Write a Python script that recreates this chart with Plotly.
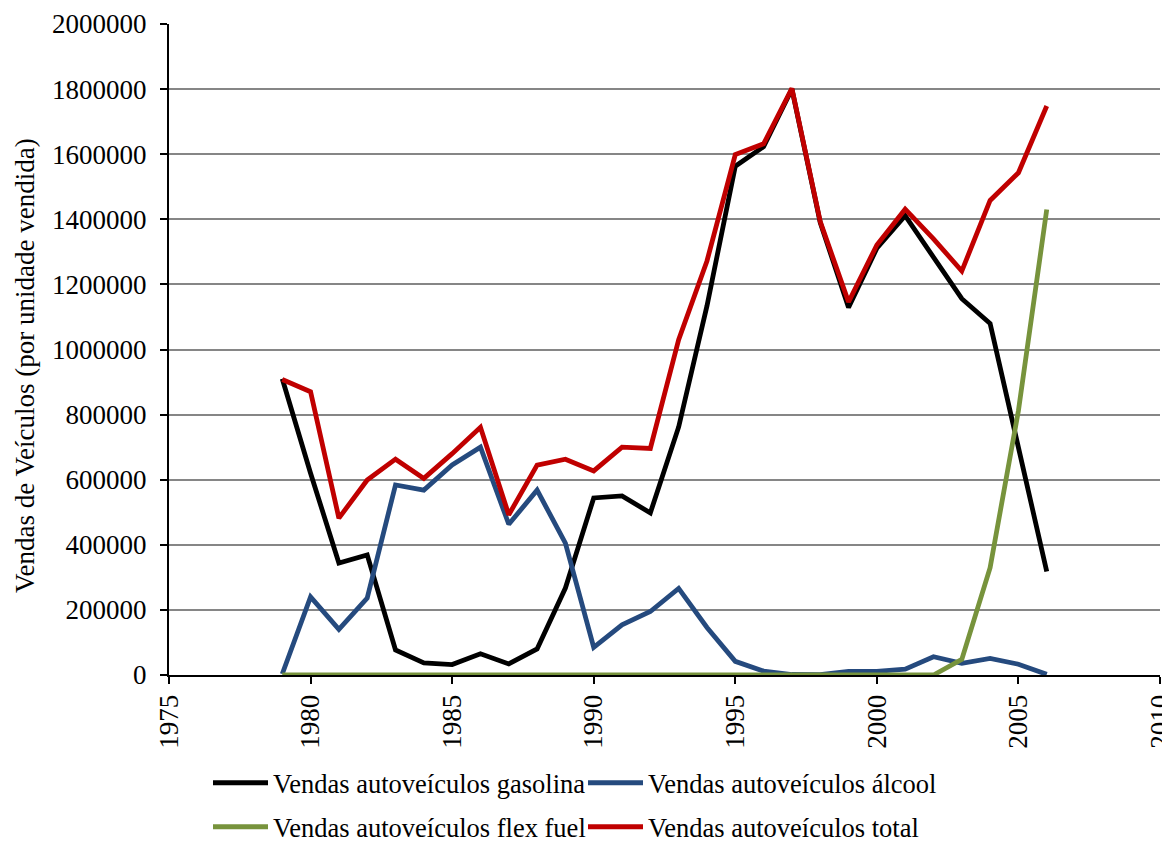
import plotly.graph_objects as go

years = list(range(1979, 2007))

gasolina = [910000, 620000, 344000, 369000, 77000, 37000, 32000, 65000, 34000, 80000,
            267000, 544000, 550000, 498000, 762000, 1134000, 1563000, 1623000, 1800000, 1390000,
            1129000, 1311000, 1411000, 1284000, 1156000, 1080000, 695000, 318000]
alcool = [3000, 240000, 140000, 236000, 584000, 568000, 645000, 700000, 463000, 568000,
          405000, 85000, 154000, 195000, 266000, 146000, 42000, 12000, 1500, 1200,
          11000, 11000, 18000, 56000, 36000, 51000, 33000, 2000]
flex = [0]*24 + [48000, 330000, 812000, 1430000]
total = [908000, 870000, 482000, 599000, 663000, 604000, 680000, 761000, 492000, 645000,
         663000, 627000, 700000, 696000, 1030000, 1272000, 1599000, 1632000, 1802000, 1393000,
         1146000, 1321000, 1431000, 1340000, 1241000, 1458000, 1543000, 1748000]

names = ["Vendas autoveículos gasolina", "Vendas autoveículos álcool",
         "Vendas autoveículos flex fuel", "Vendas autoveículos total"]
colors = ["#000000", "#254A7E", "#77933C", "#C00000"]
series = [gasolina, alcool, flex, total]
legend_ids = ["legend", "legend", "legend2", "legend2"]

FONT = "Liberation Serif, Times New Roman, serif"

# page body adds an 8px offset; figure size compensates so the plot lands where the reference has it
W, H = 1162, 833

fig = go.Figure()
for name, col, vals, lg in zip(names, colors, series, legend_ids):
    fig.add_trace(go.Scatter(x=years, y=vals, mode="lines", name=name,
                             line=dict(color=col, width=4.8), legend=lg))

legend_common = dict(orientation="h", xanchor="left", yanchor="middle",
                     xref="container", yref="container",
                     font=dict(family=FONT, size=26.5, color="#000000"),
                     bgcolor="rgba(0,0,0,0)", entrywidthmode="pixels", entrywidth=305,
                     itemwidth=55, tracegroupgap=0)

fig.update_layout(
    width=W, height=H,
    margin=dict(l=161, r=10, t=16, b=166),
    paper_bgcolor="white", plot_bgcolor="white",
    font=dict(family=FONT, size=27, color="#000000"),
    showlegend=True,
    legend=dict(x=200/W, y=1-775/H, **legend_common),
    legend2=dict(x=200/W, y=1-819/H, **legend_common),
    xaxis=dict(range=[1975, 2010], dtick=5, tick0=1975, tickangle=-90, automargin=False,
               ticklabeloverflow="allow",
               showgrid=False, zeroline=False, showline=True, linecolor="#000000", linewidth=2,
               ticks="outside", ticklen=7, tickwidth=1.5, tickcolor="#000000",
               tickfont=dict(family=FONT, size=27)),
    yaxis=dict(range=[0, 2000000], dtick=200000, tickformat="d", automargin=False,
               showgrid=True, gridcolor="#868686", gridwidth=1.5, zeroline=False,
               showline=True, linecolor="#000000", linewidth=2,
               ticks="outside", ticklen=7, tickwidth=1.5, tickcolor="#000000",
               ticklabelstandoff=8,
               tickfont=dict(family=FONT, size=27)),
    annotations=[dict(text="Vendas de Veículos (por unidade vendida)", textangle=-90,
                      xref="paper", yref="paper", x=(25-169)/991, y=(675-366)/651,
                      xanchor="center", yanchor="middle", showarrow=False,
                      font=dict(family=FONT, size=27, color="#000000"))],
)

fig.write_html("out.html")
